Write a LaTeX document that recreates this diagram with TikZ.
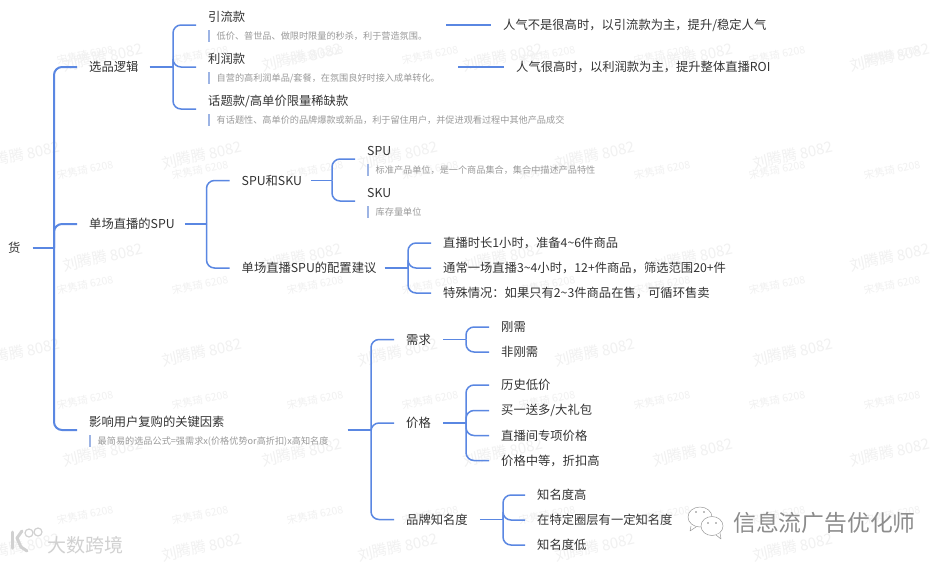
\documentclass[tikz,border=0pt]{standalone}
\usepackage{fontspec}
\setmainfont{Noto Sans CJK SC}
\definecolor{linkblue}{HTML}{5A87E2}
\definecolor{barblue}{HTML}{9DB4E4}
\definecolor{inkdark}{HTML}{333333}
\definecolor{inknote}{HTML}{9A9A9A}
\definecolor{wmark}{HTML}{F1F1F1}
\newcommand\headnote[2]{\rule{0pt}{13pt}#1\\{\fontsize{9.15}{18}\selectfont\textcolor{barblue}{\rule[-2.5pt]{2pt}{12pt}}\hspace{6.5pt}\textcolor{inknote}{#2}}}
\newcommand\stem[3][0pt]{\draw[conn] ([xshift=#1]#2.east) -- (#2.east -| #3);}
\newcommand\twig[2]{\draw[conn,rounded corners=8pt] (#1) |- (#2.west);}
\begin{document}
\begin{tikzpicture}[x=1pt,y=-1pt,
  conn/.style={draw=linkblue,line width=1.5pt},
  trunk/.style={conn,line width=2pt},
  leafline/.style={draw=linkblue,line width=1.1pt},
  topic/.style={anchor=west,inner xsep=12pt,inner ysep=0pt,text=inkdark,align=left,font=\fontsize{12.3}{18}\selectfont},
  wmbig/.style={text=wmark,rotate=12,font=\fontsize{15}{15}\selectfont,inner sep=0pt},
  wmsmall/.style={text=wmark,rotate=12,font=\fontsize{10.5}{11}\selectfont,inner sep=0pt},
  logostroke/.style={draw=#1,line cap=round,line join=round}]
\useasboundingbox (0,0) rectangle (945,563);
\fill[white] (0,0) rectangle (945,563);
% watermarks
\foreach \yy in {57,257,452}{\foreach \xx in {103,302,503,693,890}{\node[wmbig] (wa\xx-\yy) at (\xx,\yy) {刘腾腾 8082};}}
\foreach \yy in {155,352,547}{\foreach \xx in {20,202,398,595,793}{\node[wmbig] (wb\xx-\yy) at (\xx,\yy) {刘腾腾 8082};}}
\foreach \yy in {55,170,285,400,515}{\foreach \xx in {85,200,315,430,547,662,777,892}{\node[wmsmall] (wc\xx-\yy) at (\xx,\yy) {宋隽琦 6208};}}
% bus positions
\coordinate (b1) at (54,0);
\coordinate (b2a) at (173,0);
\coordinate (b2b) at (206.5,0);
\coordinate (b2c) at (371,0);
\coordinate (b3a) at (332,0);
\coordinate (b3b) at (408,0);
\coordinate (b3c) at (466,0);
\coordinate (b3d) at (466,0);
\coordinate (b3e) at (503,0);
% nodes
\node[topic,inner xsep=0pt] (root) at (8,248) {货};
\node[topic] (xp) at (77,67) {选品逻辑};
\node[topic] (dc) at (77,224) {单场直播的SPU};
\node[topic] (yx) at (77,430) {\headnote{影响用户复购的关键因素}{最简易的选品公式=强需求x(价格优势or高折扣)x高知名度}};
\node[topic] (yl) at (196,25) {\headnote{引流款}{低价、普世品、做限时限量的秒杀，利于营造氛围。}};
\node[topic] (lr) at (196,67) {\headnote{利润款}{自营的高利润单品/套餐，在氛围良好时接入成单转化。}};
\node[topic] (ht) at (196,109) {\headnote{话题款/高单价限量稀缺款}{有话题性、高单价的品牌爆款或新品，利于留住用户，并促进观看过程中其他产品成交}};
\node[topic] (r1) at (491,25) {人气不是很高时，以引流款为主，提升/稳定人气};
\node[topic] (r2) at (504,67) {人气很高时，以利润款为主，提升整体直播ROI};
\node[topic] (ss) at (229.5,180.5) {SPU和SKU};
\node[topic] (pz) at (229.5,268) {单场直播SPU的配置建议};
\node[topic] (spu) at (355,159) {\headnote{SPU}{标准产品单位，是一个商品集合，集合中描述产品特性}};
\node[topic] (sku) at (355,201) {\headnote{SKU}{库存量单位}};
\node[topic] (p1) at (431,243) {直播时长1小时，准备4\textasciitilde 6件商品};
\node[topic] (p2) at (431,268) {通常一场直播3\textasciitilde 4小时，12+件商品，筛选范围20+件};
\node[topic] (p3) at (431,293) {特殊情况：如果只有2\textasciitilde 3件商品在售，可循环售卖};
\node[topic] (xq) at (394,339.5) {需求};
\node[topic] (jg) at (394,423) {价格};
\node[topic] (pp) at (394,519.5) {品牌知名度};
\node[topic] (x1) at (489,327) {刚需};
\node[topic] (x2) at (489,352) {非刚需};
\node[topic] (j1) at (489,385) {历史低价};
\node[topic] (j2) at (489,410.5) {买一送多/大礼包};
\node[topic] (j3) at (489,435.5) {直播间专项价格};
\node[topic] (j4) at (489,460.5) {价格中等，折扣高};
\node[topic] (k1) at (525,495) {知名度高};
\node[topic] (k2) at (525,520) {在特定圈层有一定知名度};
\node[topic] (k3) at (525,545) {知名度低};
% connectors level 1
\draw[trunk] ([xshift=12pt]root.east) -- (root.east -| b1);
\coordinate (o1) at (root.east -| b1);
\draw[trunk,rounded corners=8pt] (o1) |- (xp.west);
\draw[trunk,rounded corners=8pt] (o1) |- (dc.west);
\draw[trunk,rounded corners=8pt] (o1) |- (yx.west);
% level 2
\stem[-1pt]{xp}{b2a}
\coordinate (o2) at (xp.east -| b2a);
\twig{o2}{yl}\twig{o2}{lr}\twig{o2}{ht}
\stem[-2pt]{dc}{b2b}
\coordinate (o3) at (dc.east -| b2b);
\twig{o3}{ss}\twig{o3}{pz}
\stem[7pt]{yx}{b2c}
\coordinate (o4) at (yx.east -| b2c);
\twig{o4}{xq}\twig{o4}{jg}\twig{o4}{pp}
% level 3
\stem[-3pt]{ss}{b3a}
\coordinate (o5) at (ss.east -| b3a);
\twig{o5}{spu}\twig{o5}{sku}
\stem[-4pt]{pz}{b3b}
\coordinate (o6) at (pz.east -| b3b);
\twig{o6}{p1}\twig{o6}{p2}\twig{o6}{p3}
\stem{xq}{b3c}
\coordinate (o7) at (xq.east -| b3c);
\twig{o7}{x1}\twig{o7}{x2}
\stem{jg}{b3d}
\coordinate (o8) at (jg.east -| b3d);
\twig{o8}{j1}\twig{o8}{j2}\twig{o8}{j3}\twig{o8}{j4}
\stem{pp}{b3e}
\coordinate (o9) at (pp.east -| b3e);
\twig{o9}{k1}\twig{o9}{k2}\twig{o9}{k3}
\draw[leafline] ([xshift=7pt]yl.east) -- (r1.west);
\draw[leafline] ([xshift=6pt]lr.east) -- (r2.west);
% bottom-left logo
\begin{scope}[line width=3pt]
\draw[logostroke=black!18] (12,532) -- (12,548);
\draw[logostroke=black!18] (22,531) -- (17,538) -- (21,547) -- (27,551);
\draw[logostroke=black!18,line width=1.2pt] (29,533) circle[radius=4pt];
\draw[logostroke=black!18,line width=1.2pt] (38,532) circle[radius=4pt];
\end{scope}
\node[anchor=west,inner sep=0pt,text=black!18,font=\fontsize{19}{19}\selectfont] (dskj) at (47,545) {大数跨境};
% bottom-right WeChat mark
\begin{scope}[line width=.5pt]
\filldraw[logostroke=black!40,fill=white] (700,517) ellipse[x radius=12pt,y radius=10pt];
\filldraw[logostroke=black!40,fill=white] (691,526) -- (690,531) -- (696,527);
\filldraw[logostroke=black!40,fill=white] (712,526) ellipse[x radius=11pt,y radius=9.5pt];
\filldraw[logostroke=black!40,fill=white] (716,535) -- (721,539) -- (720,533);
\fill[black!50] (696,512) circle[radius=.8pt] (704,512) circle[radius=.8pt] (708,523) circle[radius=.8pt] (716,523) circle[radius=.8pt];
\end{scope}
\node[anchor=west,inner sep=0pt,text=black!45,font=\fontsize{22.8}{23}\selectfont] (wxname) at (733,523) {信息流广告优化师};
\end{tikzpicture}
\end{document}
